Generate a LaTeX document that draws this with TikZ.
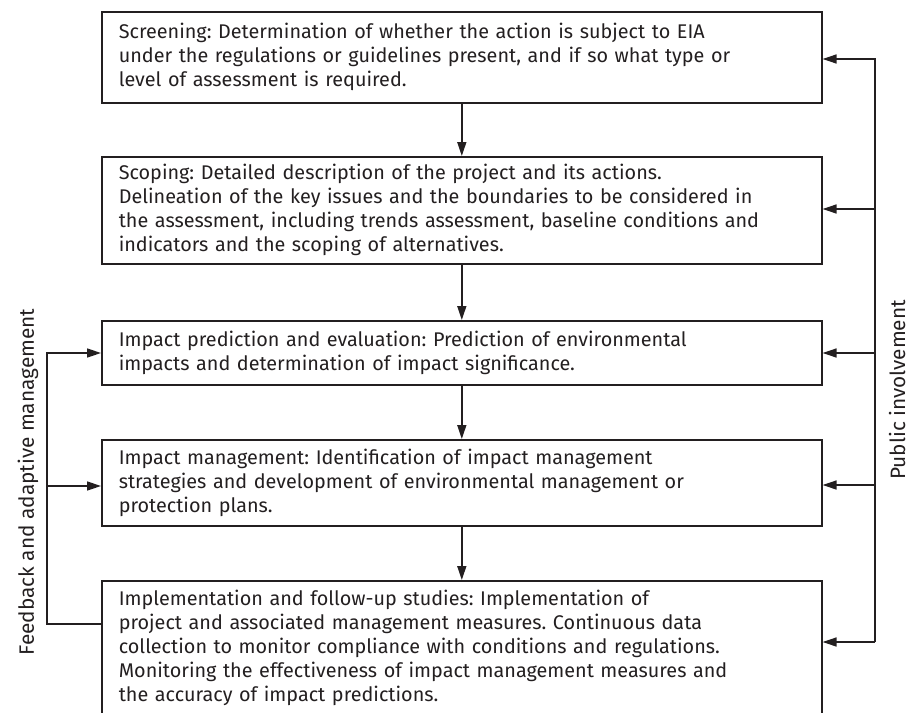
\documentclass[tikz,border=0pt]{standalone}
\usepackage{fontspec}
\setmainfont{Fira Sans}
\frenchspacing
\usetikzlibrary{arrows.meta}
\definecolor{ink}{RGB}{35,31,32}
\begin{document}
\begin{tikzpicture}[x=1pt,y=-1pt,
  stage/.style={draw=ink, line width=1.6pt, text=ink, anchor=north west,
    minimum width=720pt, text width=686pt, inner xsep=17pt, inner ysep=0pt,
    align=left, font=\fontsize{19.8}{24}\selectfont\frenchspacing},
  flow/.style={draw=ink, line width=1.6pt, -{Triangle[length=14pt,width=9pt]}},
  link/.style={draw=ink, line width=1.6pt},
  side/.style={text=ink, rotate=90, inner sep=0pt, font=\fontsize{20.8}{24}\selectfont}]
\useasboundingbox (0,0) rectangle (912,712);
\node[stage, minimum height=91pt] (b1) at (101,11)
  {Screening: Determination of whether the action is subject to EIA\\
   under the regulations or guidelines present, and if so what type or\\
   level of assessment is required.};
\node[stage, minimum height=107pt] (b2) at (101,156)
  {Scoping: Detailed description of the project and its actions.\\
   Delineation of the key issues and the boundaries to be considered in\\
   the assessment, including trends assessment, baseline conditions and\\
   indicators and the scoping of alternatives.};
\node[stage, minimum height=64pt] (b3) at (101,320)
  {Impact prediction and evaluation: Prediction of environmental\\
   impacts and determination of impact significance.};
\node[stage, minimum height=86pt] (b4) at (101,439)
  {Impact management: Identification of impact management\\
   strategies and development of environmental management or\\
   protection plans.};
\node[stage, minimum height=134pt] (b5) at (101,580)
  {Implementation and follow-up studies: Implementation of\\
   project and associated management measures. Continuous data\\
   collection to monitor compliance with conditions and regulations.\\
   Monitoring the effectiveness of impact management measures and\\
   the accuracy of impact predictions.};
\draw[flow] (b1) -- (b2);
\draw[flow] (b2) -- (b3);
\draw[flow] (b3) -- (b4);
\draw[flow] (b4) -- (b5);
% public involvement
\coordinate (r1) at (875,59);
\coordinate (r2) at (875,209);
\coordinate (r3) at (875,353);
\coordinate (r4) at (875,485);
\coordinate (r5) at (875,642);
\draw[flow] (r5) -- (r1) -- (r1 -| b1.east);
\draw[flow] (r2) -- (r2 -| b2.east);
\draw[flow] (r3) -- (r3 -| b3.east);
\draw[flow] (r4) -- (r4 -| b4.east);
\draw[flow] (r5) -- (r5 -| b5.east);
% feedback
\coordinate (l3) at (47,353);
\coordinate (l4) at (47,486);
\coordinate (l5) at (47,624);
\draw[flow] (l5 -| b5.west) -- (l5) -- (l3) -- (l3 -| b3.west);
\draw[flow] (l4) -- (l4 -| b4.west);
\node[side] (fb) at (28,482) {Feedback and adaptive management};
\node[side] (pi) at (897,390) {Public involvement};
\end{tikzpicture}
\end{document}
